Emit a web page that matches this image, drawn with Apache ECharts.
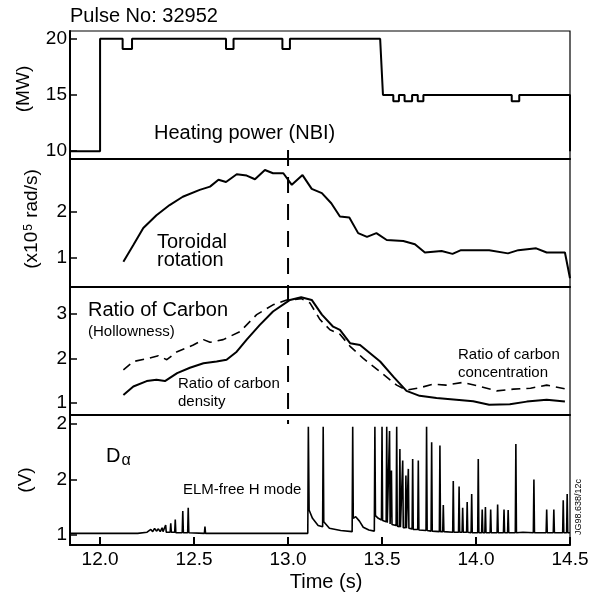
<!DOCTYPE html>
<html><head><meta charset="utf-8">
<script src="https://cdn.jsdelivr.net/npm/echarts@6/dist/echarts.min.js"></script>
<style>html,body{margin:0;padding:0;background:#fff}#c{width:597px;height:597px}</style>
</head><body><div id="c"></div>
<script>
// ---- data ----
const timeTicks = [12.0, 12.5, 13.0, 13.5, 14.0, 14.5];
const powerTicks = [10, 15, 20];
const rotationTicks = [1, 2];
const carbonTicks = [1, 2, 3];
const dalphaTicks = [1, 2, 3];
const dalphaTickLabels = ['1', '2', '2'];

// Heating power (NBI), MW  [time, value]
const powerData = [
  [11.84,10],[12.0,10],[12.0,20],[12.12,20],[12.12,19.1],[12.17,19.1],[12.17,20],
  [12.67,20],[12.67,19.1],[12.71,19.1],[12.71,20],[12.97,20],[12.97,19.1],[13.01,19.1],[13.01,20],
  [13.49,20],[13.505,15],[13.56,15],[13.56,14.45],[13.59,14.45],[13.59,15],[13.62,15],[13.62,14.45],
  [13.66,14.45],[13.66,15],[13.69,15],[13.69,14.45],[13.72,14.45],[13.72,15],[14.19,15],[14.19,14.45],
  [14.23,14.45],[14.23,15],[14.5,15],[14.5,10]
];

// Toroidal rotation, x10^5 rad/s
const rotationData = [
  [12.124,0.92],[12.177,1.28],[12.23,1.65],[12.30,1.93],[12.37,2.15],[12.44,2.33],[12.53,2.48],
  [12.585,2.55],[12.63,2.70],[12.67,2.65],[12.727,2.82],[12.78,2.79],[12.824,2.71],[12.877,2.91],
  [12.92,2.84],[12.975,2.84],[13.02,2.59],[13.077,2.80],[13.126,2.50],[13.18,2.41],[13.23,2.19],
  [13.276,1.90],[13.326,1.88],[13.373,1.54],[13.42,1.46],[13.47,1.54],[13.525,1.39],[13.613,1.37],
  [13.675,1.30],[13.728,1.12],[13.817,1.15],[13.875,1.09],[13.92,1.17],[14.07,1.17],[14.17,1.10],
  [14.225,1.17],[14.32,1.21],[14.376,1.12],[14.473,1.12],[14.5,0.56]
];

// Ratio of carbon density (solid)
const densityRatio = [
  [12.124,1.18],[12.177,1.37],[12.248,1.49],[12.30,1.52],[12.345,1.49],[12.41,1.67],[12.478,1.79],
  [12.55,1.89],[12.62,1.93],[12.673,1.97],[12.727,2.15],[12.78,2.42],[12.85,2.75],[12.92,3.05],
  [12.993,3.26],[13.01,3.31],[13.07,3.37],[13.126,3.31],[13.18,2.98],[13.24,2.71],[13.276,2.64],
  [13.33,2.34],[13.383,2.30],[13.49,1.93],[13.56,1.59],[13.63,1.27],[13.70,1.16],[13.79,1.11],
  [13.88,1.08],[13.985,1.04],[14.07,0.96],[14.18,0.97],[14.27,1.03],[14.376,1.07],[14.473,1.03]
];

// Ratio of carbon concentration (dashed)
const concentrationRatio = [
  [12.124,1.74],[12.177,1.93],[12.248,1.99],[12.31,2.06],[12.355,1.97],[12.41,2.15],[12.496,2.30],
  [12.55,2.42],[12.585,2.36],[12.655,2.42],[12.745,2.60],[12.833,2.98],[12.92,3.20],[12.993,3.31],
  [13.01,3.31],[13.07,3.34],[13.117,3.24],[13.17,2.87],[13.223,2.64],[13.276,2.54],[13.33,2.27],
  [13.40,2.00],[13.49,1.70],[13.578,1.40],[13.63,1.29],[13.70,1.34],[13.77,1.42],[13.84,1.40],
  [13.93,1.46],[14.02,1.37],[14.11,1.27],[14.20,1.31],[14.29,1.33],[14.376,1.40],[14.48,1.31]
];

// D-alpha signal, V
const dalphaData = [
  [11.84,1.03],[12.2,1.03],[12.25,1.05],[12.27,1.10],[12.28,1.06],[12.29,1.12],[12.30,1.07],[12.31,1.11],
  [12.32,1.06],[12.33,1.13],[12.335,1.06],[12.345,1.05],[12.349,1.18],[12.352,1.05],[12.373,1.05],
  [12.376,1.21],[12.379,1.05],[12.397,1.05],[12.40,1.28],[12.403,1.04],[12.437,1.04],[12.44,1.43],
  [12.443,1.04],[12.466,1.04],[12.469,1.49],[12.472,1.04],[12.555,1.03],[12.558,1.15],[12.561,1.03],
  [13.105,1.03],[13.108,2.95],[13.112,1.45],[13.13,1.30],[13.16,1.17],[13.184,1.15],[13.187,2.95],
  [13.19,1.24],[13.22,1.12],[13.28,1.08],[13.341,1.06],[13.344,2.95],[13.347,1.30],[13.36,1.33],
  [13.38,1.25],[13.40,1.14],[13.43,1.09],[13.459,1.07],[13.462,2.95],[13.465,1.35],[13.48,1.30],
  [13.497,1.27],[13.50,2.95],[13.503,1.26],[13.522,1.24],[13.525,2.95],[13.528,1.22],[13.537,1.21],
  [13.54,2.87],[13.543,1.20],[13.547,1.20],[13.55,2.16],[13.553,1.19],[13.575,1.17],[13.578,2.95],
  [13.581,1.16],[13.592,1.15],[13.595,2.55],[13.598,1.14],[13.607,1.14],[13.61,2.34],[13.613,1.13],
  [13.624,1.13],[13.627,2.07],[13.63,1.12],[13.637,1.12],[13.64,2.19],[13.643,1.12],[13.66,1.11],
  [13.663,2.37],[13.666,1.10],[13.69,1.10],[13.693,2.34],[13.696,1.09],[13.734,1.08],[13.737,2.95],
  [13.74,1.08],[13.761,1.07],[13.764,2.67],[13.767,1.07],[13.805,1.06],[13.808,2.61],[13.811,1.06],
  [13.823,1.06],[13.826,1.54],[13.829,1.06],[13.876,1.05],[13.879,1.97],[13.882,1.05],[13.907,1.05],
  [13.91,1.875],[13.913,1.05],[13.926,1.05],[13.929,1.49],[13.932,1.05],[13.95,1.05],[13.953,1.595],
  [13.956,1.05],[13.974,1.04],[13.977,1.74],[13.98,1.04],[14.009,1.04],[14.012,2.37],[14.015,1.04],
  [14.03,1.04],[14.033,1.46],[14.036,1.04],[14.047,1.04],[14.05,1.505],[14.053,1.04],[14.075,1.04],
  [14.078,1.46],[14.081,1.04],[14.112,1.04],[14.115,1.55],[14.118,1.04],[14.146,1.04],[14.149,1.46],
  [14.152,1.04],[14.168,1.04],[14.171,1.45],[14.174,1.04],[14.209,1.04],[14.212,2.64],[14.215,1.04],
  [14.25,1.05],[14.305,1.04],[14.308,2.0],[14.311,1.04],[14.373,1.04],[14.376,1.46],[14.379,1.04],
  [14.411,1.04],[14.414,1.46],[14.417,1.04],[14.461,1.04],[14.464,1.625],[14.467,1.04],[14.482,1.04],
  [14.485,1.74],[14.488,1.04],[14.5,1.04]
];

// ---- chart ----
const FONT = '"Liberation Sans", Arial, Helvetica, sans-serif';
const chart = echarts.init(document.getElementById('c'), null, {renderer: 'canvas'});

const gridBoxes = [
  {top: 31, height: 128},
  {top: 159, height: 128},
  {top: 287, height: 128},
  {top: 415, height: 130}
];
const yRanges = [[9.3, 20.7], [0.37, 3.15], [0.73, 3.6], [0.82, 3.16]];
const yTicks = [powerTicks, rotationTicks, carbonTicks, dalphaTicks];

const grid = gridBoxes.map(b => ({
  left: 70, right: 27, top: b.top, height: b.height,
  show: true, borderColor: '#000', borderWidth: 1.2, backgroundColor: 'transparent'
}));

const xAxis = gridBoxes.map((b, i) => ({
  type: 'value', gridIndex: i, min: 11.84, max: 14.5,
  splitLine: {show: false},
  axisLine: {show: true, onZero: false, lineStyle: {color: '#000', width: 2}},
  axisTick: {show: i === 3, inside: true, length: 8, customValues: timeTicks, lineStyle: {color: '#000', width: 2}},
  axisLabel: {show: i === 3, customValues: timeTicks, formatter: v => v.toFixed(1),
    color: '#000', fontFamily: FONT, fontSize: 19, margin: 5}
}));

const yAxis = gridBoxes.map((b, i) => ({
  type: 'value', gridIndex: i, min: yRanges[i][0], max: yRanges[i][1],
  splitLine: {show: false},
  axisLine: {show: true, onZero: false, lineStyle: {color: '#000', width: 2}},
  axisTick: {show: true, inside: true, length: 7, customValues: yTicks[i], lineStyle: {color: '#000', width: 1.5}},
  axisLabel: {show: true, customValues: yTicks[i], color: '#000', fontFamily: FONT, fontSize: 19, margin: 3,
    formatter: i === 3 ? (v => dalphaTickLabels[dalphaTicks.indexOf(Math.round(v))]) : (v => String(Math.round(v)))}
}));

const lineSeries = (data, i, extra) => Object.assign({
  type: 'line', data: data, xAxisIndex: i, yAxisIndex: i,
  showSymbol: false, symbol: 'none', silent: true, animation: false,
  lineStyle: {color: '#000', width: 2}
}, extra || {});

const series = [
  lineSeries(powerData, 0),
  lineSeries(rotationData, 1),
  lineSeries(concentrationRatio, 2, {lineStyle: {color: '#000', width: 1.6, type: [9, 6]}}),
  lineSeries(densityRatio, 2),
  lineSeries(dalphaData, 3, {lineStyle: {color: '#000', width: 1.6}})
];

const txt = (text, x, y, size, extra) => Object.assign({
  type: 'text', x: x, y: y, silent: true,
  style: {text: text, fontFamily: FONT, fontSize: size, fill: '#000', align: 'left', verticalAlign: 'middle'}
}, extra || {});

const graphics = [
  txt('Pulse No: 32952', 70, 16, 20),
  txt('Heating power (NBI)', 154, 133, 20),
  txt('Toroidal', 157, 242, 20),
  txt('rotation', 157, 260, 20),
  txt('Ratio of Carbon', 88, 310, 20),
  txt('(Hollowness)', 88, 332, 15),
  txt('Ratio of carbon', 178, 384, 15),
  txt('density', 178, 402, 15),
  txt('Ratio of carbon', 458, 355, 15),
  txt('concentration', 458, 373, 15),
  {type: 'text', x: 106, y: 456, silent: true,
   style: {text: '{d|D}{a|α}', fontFamily: FONT, fill: '#000', align: 'left', verticalAlign: 'middle',
     rich: {d: {fontSize: 20, fontFamily: FONT, verticalAlign: 'bottom'}, a: {fontSize: 16, fontFamily: FONT, verticalAlign: 'bottom', padding: [0, 0, -3, 1]}}}},
  txt('ELM-free H mode', 183, 490, 15),
  {type: 'text', x: 579, y: 507, rotation: Math.PI / 2, silent: true,
   style: {text: 'JG98.638/12c', fontFamily: FONT, fontSize: 9, fill: '#000', align: 'center', verticalAlign: 'middle'}},
  {type: 'text', x: 326, y: 582, silent: true,
   style: {text: 'Time (s)', fontFamily: FONT, fontSize: 20, fill: '#000', align: 'center', verticalAlign: 'middle'}},
  {type: 'text', x: 24, y: 89, rotation: Math.PI / 2, silent: true,
   style: {text: '(MW)', fontFamily: FONT, fontSize: 19, fill: '#000', align: 'center', verticalAlign: 'middle'}},
  {type: 'text', x: 32, y: 219, rotation: Math.PI / 2, silent: true,
   style: {text: '(x10{s|5} rad/s)', fontFamily: FONT, fontSize: 19, fill: '#000', align: 'center', verticalAlign: 'middle',
     rich: {s: {fontSize: 12, fontFamily: FONT, verticalAlign: 'top', padding: [0, 1, 0, 1]}}}},
  {type: 'text', x: 26, y: 480, rotation: Math.PI / 2, silent: true,
   style: {text: '(V)', fontFamily: FONT, fontSize: 19, fill: '#000', align: 'center', verticalAlign: 'middle'}}
];

chart.setOption({
  animation: false,
  backgroundColor: '#fff',
  grid: grid, xAxis: xAxis, yAxis: yAxis, series: series,
  graphic: graphics
});

// dashed vertical marker at t = 13.0 spanning the panels, placed through the axes' scales
const markerTime = 13.0;
const pTop = chart.convertToPixel({gridIndex: 0}, [markerTime, 10.1]);
const pBot = chart.convertToPixel({gridIndex: 3}, [markerTime, 3.0]);
chart.setOption({
  graphic: graphics.concat([{
    type: 'line', silent: true, z: 5,
    shape: {x1: pTop[0], y1: pTop[1], x2: pBot[0], y2: pBot[1]},
    style: {stroke: '#000', lineWidth: 2, lineDash: [16, 11]}
  }])
});
</script>
</body></html>
